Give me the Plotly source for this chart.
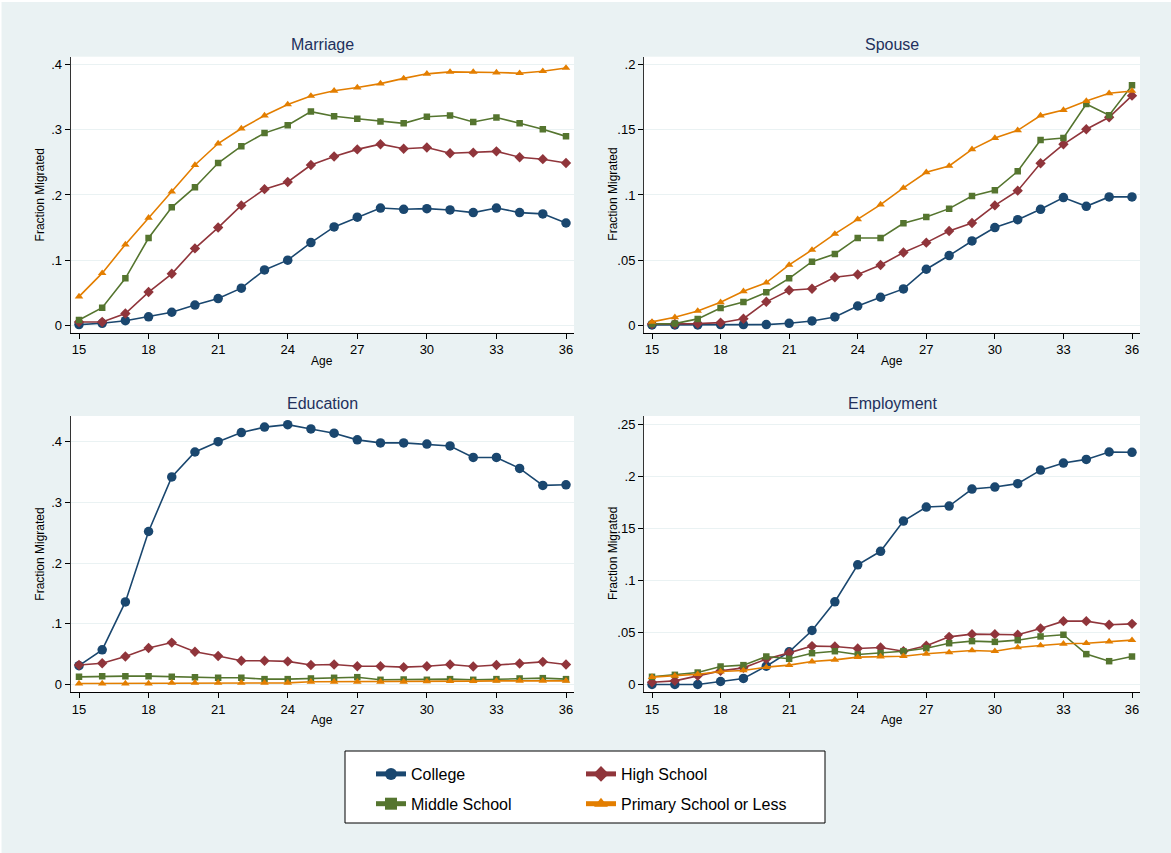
import plotly.graph_objects as go

# ages on the x axis (same for all four panels)
ages = list(range(15, 37))

groups = ["College", "High School", "Middle School", "Primary School or Less"]

# Marriage
marriage_college = [0.001, 0.003, 0.007, 0.013, 0.020, 0.031, 0.041, 0.057, 0.085, 0.100, 0.127,
                    0.151, 0.166, 0.180, 0.178, 0.179, 0.177, 0.173, 0.180, 0.173, 0.171, 0.157]
marriage_high = [0.005, 0.005, 0.018, 0.051, 0.079, 0.118, 0.150, 0.184, 0.209, 0.220, 0.246,
                 0.259, 0.270, 0.278, 0.271, 0.273, 0.264, 0.265, 0.267, 0.258, 0.255, 0.249]
marriage_middle = [0.008, 0.027, 0.072, 0.134, 0.181, 0.212, 0.249, 0.275, 0.295, 0.307, 0.328,
                   0.321, 0.317, 0.313, 0.310, 0.320, 0.322, 0.312, 0.319, 0.310, 0.301, 0.290]
marriage_primary = [0.044, 0.080, 0.124, 0.165, 0.205, 0.246, 0.279, 0.302, 0.322, 0.339, 0.352,
                    0.360, 0.365, 0.371, 0.379, 0.386, 0.389, 0.389, 0.388, 0.387, 0.390, 0.395]

# Spouse
spouse_college = [0.0003, 0.0003, 0.0003, 0.0005, 0.0005, 0.0005, 0.0015, 0.0033, 0.0064, 0.0148, 0.0215,
                  0.0279, 0.0430, 0.0535, 0.0647, 0.0750, 0.0810, 0.0890, 0.0980, 0.0913, 0.0985, 0.0985]
spouse_high = [0.0010, 0.0010, 0.0013, 0.0020, 0.0050, 0.0180, 0.0269, 0.0280, 0.0368, 0.0390, 0.0463,
               0.0558, 0.0634, 0.0724, 0.0785, 0.0920, 0.1033, 0.1243, 0.1389, 0.1504, 0.1596, 0.1762]
spouse_middle = [0.0010, 0.0013, 0.0049, 0.0133, 0.0179, 0.0253, 0.0360, 0.0488, 0.0547, 0.0670, 0.0670,
                 0.0783, 0.0831, 0.0895, 0.0992, 0.1036, 0.1182, 0.1422, 0.1437, 0.1698, 0.1611, 0.1841]
spouse_primary = [0.0026, 0.0061, 0.0110, 0.0176, 0.0261, 0.0327, 0.0463, 0.0578, 0.0701, 0.0813, 0.0926,
                  0.1054, 0.1174, 0.1223, 0.1350, 0.1437, 0.1496, 0.1609, 0.1652, 0.1721, 0.1780, 0.1798]

# Education
education_college = [0.031, 0.057, 0.136, 0.252, 0.342, 0.383, 0.400, 0.415, 0.424, 0.428, 0.421,
                     0.414, 0.403, 0.398, 0.398, 0.396, 0.393, 0.374, 0.374, 0.356, 0.328, 0.329]
education_high = [0.032, 0.035, 0.046, 0.060, 0.069, 0.054, 0.047, 0.039, 0.039, 0.038, 0.032,
                  0.033, 0.030, 0.030, 0.0285, 0.030, 0.033, 0.0296, 0.032, 0.0346, 0.0373, 0.033]
education_middle = [0.0126, 0.0137, 0.0137, 0.0137, 0.0126, 0.0120, 0.0110, 0.0110, 0.0088, 0.0088, 0.0099,
                    0.0110, 0.0120, 0.0077, 0.0082, 0.0077, 0.0088, 0.0077, 0.0088, 0.0099, 0.0104, 0.0088]
education_primary = [0.0016, 0.0016, 0.0016, 0.0016, 0.0027, 0.0027, 0.0027, 0.0027, 0.0027, 0.0027, 0.0044,
                     0.0044, 0.0044, 0.0044, 0.0044, 0.0050, 0.0055, 0.0055, 0.0060, 0.0060, 0.0060, 0.0060]

# Employment
employment_college = [0.0, 0.0, 0.0, 0.0029, 0.0058, 0.0176, 0.0314, 0.0519, 0.0795, 0.115, 0.128,
                      0.157, 0.1705, 0.1715, 0.1878, 0.1897, 0.193, 0.206, 0.2128, 0.2163, 0.2234, 0.2231]
employment_high = [0.0022, 0.0035, 0.0083, 0.0131, 0.0160, 0.0244, 0.0304, 0.0369, 0.0365, 0.0346, 0.0356,
                   0.0320, 0.0372, 0.0458, 0.0484, 0.0484, 0.0478, 0.0538, 0.0609, 0.0609, 0.0574, 0.0583]
employment_middle = [0.0074, 0.0093, 0.0115, 0.0173, 0.0186, 0.0269, 0.0247, 0.0301, 0.0320, 0.0288, 0.0301,
                     0.0320, 0.0349, 0.0397, 0.0417, 0.0410, 0.0426, 0.0462, 0.0478, 0.0292, 0.0224, 0.0269]
employment_primary = [0.0071, 0.0083, 0.0099, 0.0125, 0.0135, 0.0167, 0.0186, 0.0221, 0.0237, 0.0263, 0.0269,
                      0.0272, 0.0295, 0.0308, 0.0327, 0.0320, 0.0356, 0.0375, 0.0391, 0.0397, 0.0413, 0.0426]

xticks = [15, 18, 21, 24, 27, 30, 33, 36]
marriage_ticks = [0, 0.1, 0.2, 0.3, 0.4]
spouse_ticks = [0, 0.05, 0.1, 0.15, 0.2]
education_ticks = [0, 0.1, 0.2, 0.3, 0.4]
employment_ticks = [0, 0.05, 0.1, 0.15, 0.2, 0.25]


def stata_label(v):
    # stata prints .1 instead of 0.1
    if v == 0:
        return "0"
    return ("%g" % v).lstrip("0")


# styling (stata s2color look)
BG = "#EAF2F3"
colors = ["#1A476F", "#90353B", "#55752F", "#E37E00"]
symbols = ["circle", "diamond", "square", "triangle-up"]
msizes = [9.5, 8, 6.5, 7.5]
legends = ["legend", "legend2", "legend", "legend2"]
FONT = "Liberation Sans, Arial, sans-serif"

W, H = 1171, 853
# panel geometry in pixels: (left, right, top, bottom)
boxes = [(70.7, 574, 56.7, 332.7), (644, 1140, 56.7, 332.7),
         (70.7, 574, 416, 692), (644, 1140, 416, 692)]
xranges = [[14.642, 36.345], [14.65, 36.35], [14.642, 36.345], [14.65, 36.35]]
yranges = [[-0.0114, 0.4123], [-0.0057, 0.2061], [-0.0124, 0.4423], [-0.0072, 0.258]]

panels = [
    ("Marriage", [marriage_college, marriage_high, marriage_middle, marriage_primary], marriage_ticks),
    ("Spouse", [spouse_college, spouse_high, spouse_middle, spouse_primary], spouse_ticks),
    ("Education", [education_college, education_high, education_middle, education_primary], education_ticks),
    ("Employment", [employment_college, employment_high, employment_middle, employment_primary], employment_ticks),
]

fig = go.Figure()
annotations = []


def label(text, x, y, size, color="black", angle=0):
    return dict(text=text, x=x, y=y, xref="paper", yref="paper", xanchor="center", yanchor="middle",
                textangle=angle, showarrow=False, font=dict(family=FONT, size=size, color=color))


for p, (title, series, yt) in enumerate(panels):
    n = "" if p == 0 else str(p + 1)
    l, r, t, b = boxes[p]
    for g in range(4):
        fig.add_trace(go.Scatter(
            x=ages, y=series[g], name=groups[g], mode="lines+markers",
            xaxis="x" + n, yaxis="y" + n,
            line=dict(color=colors[g], width=1.6),
            marker=dict(symbol=symbols[g], size=msizes[g], color=colors[g]),
            showlegend=(p == 0), legend=legends[g], legendgroup=groups[g],
        ))
    fig.layout["xaxis" + n] = dict(
        domain=[l / W, r / W], anchor="y" + n, range=xranges[p],
        tickvals=xticks, ticks="outside", ticklen=5, tickcolor="black",
        showline=True, linecolor="black", linewidth=1, showgrid=False, zeroline=False,
        tickfont=dict(family=FONT, size=13, color="black"),
    )
    fig.layout["yaxis" + n] = dict(
        domain=[1 - b / H, 1 - t / H], anchor="x" + n, range=yranges[p],
        tickvals=yt, ticktext=[stata_label(v) for v in yt],
        ticks="outside", ticklen=5, tickcolor="black",
        showline=True, linecolor="#333333", linewidth=1,
        showgrid=True, gridcolor=BG, gridwidth=1, zeroline=False,
        tickfont=dict(family=FONT, size=13, color="black"),
    )
    cx = (l + r) / 2 / W
    annotations.append(label(title, cx, 1 - (t - 12) / H, 16, "#22305C"))
    annotations.append(label("Age", cx, 1 - (b + 28) / H, 12))
    annotations.append(label("Fraction Migrated", (l - 31) / W, 1 - (t + b) / 2 / H, 12, angle=-90))

legend_style = dict(orientation="v", yanchor="middle", y=1 - 789 / H, xanchor="left",
                    bgcolor="rgba(0,0,0,0)", borderwidth=0, tracegroupgap=6,
                    font=dict(family=FONT, size=16, color="black"), itemsizing="constant")

fig.update_layout(
    width=W, height=H, margin=dict(l=0, r=0, t=0, b=0),
    paper_bgcolor=BG, plot_bgcolor="white",
    annotations=annotations,
    legend=dict(legend_style, x=(413 - 42) / W),
    legend2=dict(legend_style, x=(623 - 42) / W),
    shapes=[
        dict(type="rect", xref="paper", yref="paper",
             x0=345 / W, x1=825 / W, y0=1 - 823 / H, y1=1 - 751 / H,
             fillcolor="white", line=dict(color="black", width=1), layer="below"),
        # thin white edge at top and left, as in the exported image
        dict(type="rect", xref="paper", yref="paper", x0=0, x1=1, y0=1 - 2 / H, y1=1,
             fillcolor="white", line=dict(width=0), layer="below"),
        dict(type="rect", xref="paper", yref="paper", x0=0, x1=1.5 / W, y0=0, y1=1,
             fillcolor="white", line=dict(width=0), layer="below"),
    ],
)

# default page margin would shift the figure by 8px
fig.write_html("out.html", config={"displayModeBar": False},
               post_script="document.body.style.margin='0px';")
